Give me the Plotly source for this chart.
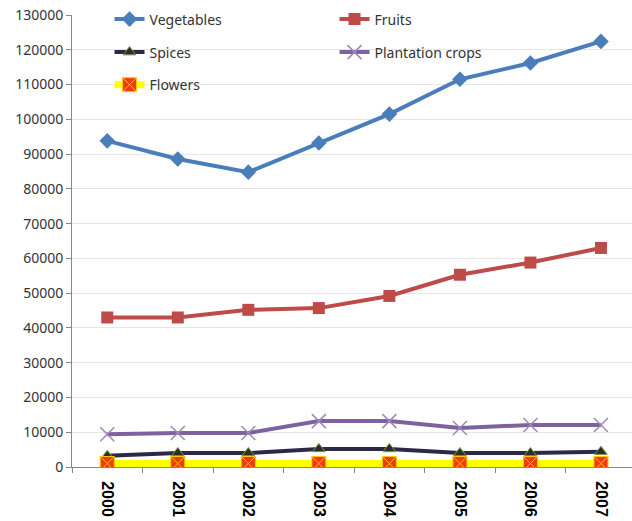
import plotly.graph_objects as go

years = ["2000", "2001", "2002", "2003", "2004", "2005", "2006", "2007"]
vegetables = [93800, 88600, 84800, 93200, 101500, 111500, 116200, 122400]
fruits = [43000, 43000, 45200, 45700, 49200, 55300, 58800, 63000]
spices = [3200, 4000, 4000, 5200, 5200, 4000, 4000, 4400]
plantation = [9400, 9800, 9800, 13200, 13200, 11200, 12100, 12100]
flowers = [1000, 1000, 1000, 1000, 1000, 1000, 1000, 1000]

fig = go.Figure()

fig.add_trace(go.Scatter(
    x=years, y=vegetables, name="Vegetables", mode="lines+markers",
    line=dict(color="#4A7EBB", width=4),
    marker=dict(symbol="diamond", size=12, color="#4A7EBB"),
    legend="legend"))
fig.add_trace(go.Scatter(
    x=years, y=fruits, name="Fruits", mode="lines+markers",
    line=dict(color="#BE4B48", width=4),
    marker=dict(symbol="square", size=12, color="#BE4B48"),
    legend="legend"))
fig.add_trace(go.Scatter(
    x=years, y=spices, name="Spices", mode="lines+markers",
    line=dict(color="#2C2848", width=4),
    marker=dict(symbol="triangle-up", size=11, color="#2E2E28",
                line=dict(color="#7A9A4A", width=1)),
    legend="legend2"))
fig.add_trace(go.Scatter(
    x=years, y=plantation, name="Plantation crops", mode="lines+markers",
    line=dict(color="#7E62A0", width=4),
    marker=dict(symbol="x-thin", size=14, color="#9C88BC",
                line=dict(color="#9C88BC", width=1.5)),
    legend="legend2"))
fig.add_trace(go.Scatter(
    x=years, y=flowers, name="Flowers", mode="lines+markers",
    line=dict(color="#FFFF00", width=7),
    marker=dict(symbol="square-x", size=14, color="#F23A0C",
                line=dict(color="#FFC800", width=1)),
    legend="legend3"))

legend_common = dict(
    orientation="h", xanchor="left", yanchor="middle",
    font=dict(family="Noto Sans", size=14, color="#333333"),
    bgcolor="rgba(0,0,0,0)", entrywidth=180, entrywidthmode="pixels",
    itemclick=False,
)

fig.update_layout(
    width=632, height=521,
    margin=dict(l=72, r=0, t=15, b=54),
    paper_bgcolor="white", plot_bgcolor="white",
    showlegend=True,
    legend=dict(x=0.067, y=0.99, **legend_common),
    legend2=dict(x=0.067, y=0.917, **legend_common),
    legend3=dict(x=0.067, y=0.845, **legend_common),
    xaxis=dict(
        type="category", range=[-0.5, 7.44],
        tickangle=90, tickson="boundaries", ticks="outside", ticklen=5,
        tickcolor="#888888", showline=True, linecolor="#888888", linewidth=1,
        showgrid=False, ticklabelstandoff=10,
        tickfont=dict(family="Liberation Sans", size=16, color="black", weight="bold"),
    ),
    yaxis=dict(
        range=[0, 130000], dtick=10000, tickformat="d",
        ticks="outside", ticklen=5, tickcolor="#888888",
        showline=True, linecolor="#888888", linewidth=1,
        showgrid=True, gridcolor="#E6E6E6", gridwidth=1, zeroline=False,
        tickfont=dict(family="Noto Sans", size=14, color="#333333"),
    ),
)

fig.write_html("out.html")
